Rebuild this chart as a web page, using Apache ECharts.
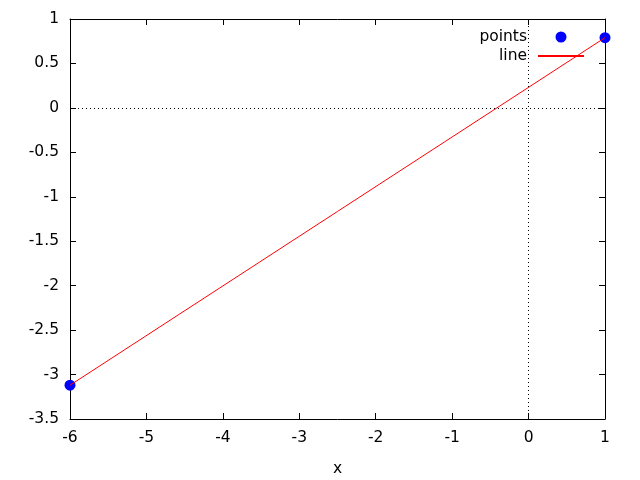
<!DOCTYPE html>
<html>
<head>
<meta charset="utf-8">
<script src="https://cdn.jsdelivr.net/npm/echarts@6/dist/echarts.min.js"></script>
<style>
  html, body { margin: 0; padding: 0; background: #fff; }
  #chart { width: 640px; height: 480px; }
</style>
</head>
<body>
<div id="chart"></div>
<script>
// data
const xValues = [-6, 1]
const pointValues = [-3.12, 0.79]
const lineValues = [-3.12, 0.79]
const seriesNames = ['points', 'line']

const font = 'DejaVu Sans'
const fontSize = 15.5
const myChart = echarts.init(document.getElementById('chart'))

// shared axis look (gnuplot style: box frame, ticks inward)
const frameAxis = {
  axisLine: { show: true, onZero: false, lineStyle: { color: '#000', width: 1 } },
  axisTick: { show: true, inside: true, length: 6, lineStyle: { color: '#000' } },
  splitLine: { show: false }
}

const option = {
  animation: false,
  textStyle: { fontFamily: font },
  grid: { left: 70, right: 35, top: 19, bottom: 61, outerBoundsMode: 'none' },
  legend: {
    orient: 'vertical',
    align: 'right',
    right: 55,
    top: 29,
    padding: 0,
    itemWidth: 46,
    itemHeight: 11,
    itemGap: 3,
    selectedMode: false,
    textStyle: { fontFamily: font, fontSize: fontSize, lineHeight: 16, color: '#000', padding: [0, 6, 0, 0] },
    data: [
      { name: seriesNames[0], icon: 'circle' },
      { name: seriesNames[1], itemStyle: { color: 'rgba(0,0,0,0)', borderWidth: 0, opacity: 0 } }
    ]
  },
  xAxis: [
    {
      type: 'value', position: 'bottom', min: -6, max: 1, interval: 1,
      name: 'x', nameLocation: 'middle', nameGap: 42,
      nameTextStyle: { fontFamily: font, fontSize: fontSize, color: '#000' },
      axisLabel: { fontFamily: font, fontSize: fontSize, color: '#000', margin: 11 },
      ...frameAxis
    },
    {
      type: 'value', position: 'top', min: -6, max: 1, interval: 1,
      axisLabel: { show: false },
      ...frameAxis
    }
  ],
  yAxis: [
    {
      type: 'value', position: 'left', min: -3.5, max: 1, interval: 0.5,
      axisLabel: { fontFamily: font, fontSize: fontSize, color: '#000', margin: 11 },
      ...frameAxis
    },
    {
      type: 'value', position: 'right', min: -3.5, max: 1, interval: 0.5,
      axisLabel: { show: false },
      ...frameAxis
    }
  ],
  series: [
    {
      name: seriesNames[0],
      type: 'scatter',
      symbol: 'circle',
      symbolSize: 11,
      itemStyle: { color: '#0000ff', opacity: 1 },
      data: xValues.map((x, i) => [x, pointValues[i]]),
      z: 3
    },
    {
      name: seriesNames[1],
      type: 'line',
      symbol: 'none',
      lineStyle: { color: '#ff0000', width: 1 },
      itemStyle: { color: '#ff0000' },
      data: xValues.map((x, i) => [x, lineValues[i]]),
      z: 4,
      // zero axes, dotted
      markLine: {
        silent: true,
        symbol: 'none',
        label: { show: false },
        lineStyle: { color: '#000', type: [1, 3], width: 1 },
        data: [{ xAxis: 0 }, { yAxis: 0 }]
      }
    }
  ]
}
myChart.setOption(option)
</script>
</body>
</html>
